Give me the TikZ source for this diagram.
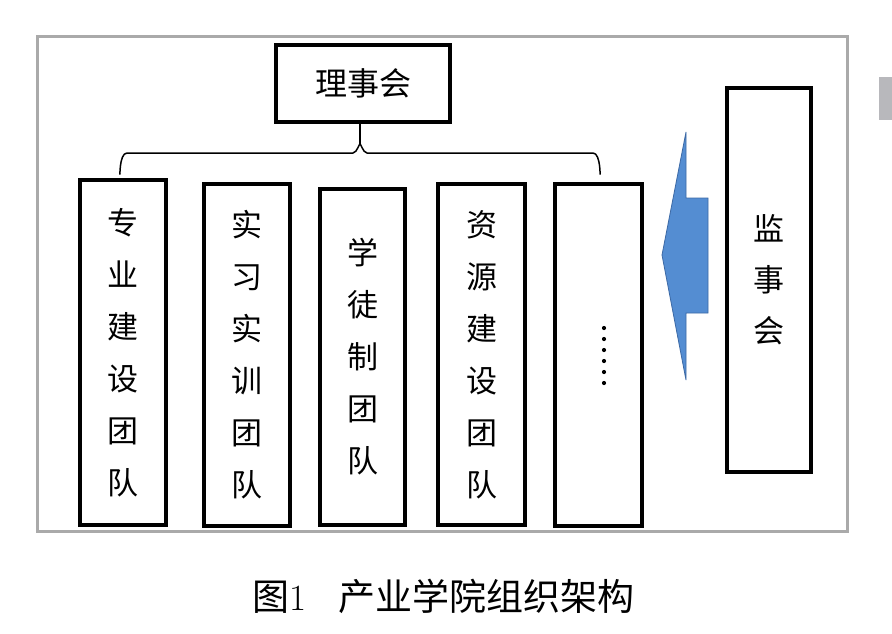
\documentclass[tikz,border=0pt]{standalone}
\usepackage{fontspec}
\newfontfamily\cjk{Noto Sans CJK SC}
\definecolor{framegray}{RGB}{170,170,170}
\definecolor{patchgray}{RGB}{184,184,188}
\definecolor{arrowfill}{RGB}{84,141,210}
\definecolor{arrowedge}{RGB}{60,105,165}
\begin{document}
\begin{tikzpicture}[x=1pt,y=-1pt,
  box/.style={draw=black,line width=3.8pt,fill=white,inner sep=0pt,align=center,
    font=\cjk\fontsize{31}{52}\selectfont},
  bracepath/.style={line width=1.5pt,black}]
\useasboundingbox (0,0) rectangle (892,633);
\fill[white] (0,0) rectangle (892,633);
% outer frame
\draw[framegray,line width=3pt] (37.5,36.5) rectangle (847.5,531.5);
\fill[patchgray] (879,77) rectangle (892,120);
% top node
\node[box,minimum width=174pt,minimum height=77pt,font=\cjk\fontsize{32}{40}\selectfont] (lsh) at (363,83.5) {理事会};
% team boxes
\node[box,minimum width=86pt,minimum height=345pt] (t1) at (123,352.5) {专\\业\\建\\设\\团\\队};
\node[box,minimum width=86pt,minimum height=342pt] (t2) at (247,355) {实\\习\\实\\训\\团\\队};
\node[box,minimum width=85pt,minimum height=336pt] (t3) at (362.5,357) {学\\徒\\制\\团\\队};
\node[box,minimum width=87pt,minimum height=341pt] (t4) at (481.5,354.5) {资\\源\\建\\设\\团\\队};
\node[box,minimum width=87pt,minimum height=342pt] (t5) at (598.5,355) {};
\foreach \i in {0,...,5} \fill (604,328+11*\i) circle (2.1pt);
% supervisory board
\node[box,minimum width=84pt,minimum height=384pt,font=\cjk\fontsize{31}{51}\selectfont] (jsh) at (769,280) {监\\事\\会};
% brace
\coordinate (bl) at (120,173);
\coordinate (br) at (600,173);
\coordinate (bc) at (360,145);
\draw[bracepath] (lsh.south -| bc) -- (bc);
\draw[bracepath] (bl) to[out=-90,in=180] (127,153) -- (353,153) to[out=0,in=90] (bc);
\draw[bracepath] (br) to[out=-90,in=0] (593,153) -- (367,153) to[out=180,in=90] (bc);
% arrow
\draw[fill=arrowfill,draw=arrowedge,line width=0.8pt,line join=miter]
  (662,255) -- (686,132) -- (686,198) -- (708,198) -- (708,313) -- (686,313) -- (686,380) -- cycle;
% caption
\node[font=\cjk\fontsize{37}{40}\selectfont,inner sep=0pt] (cap) at (443.5,596) {图{\rmfamily 1}\hspace{0.85em}产业学院组织架构};
\end{tikzpicture}
\end{document}
